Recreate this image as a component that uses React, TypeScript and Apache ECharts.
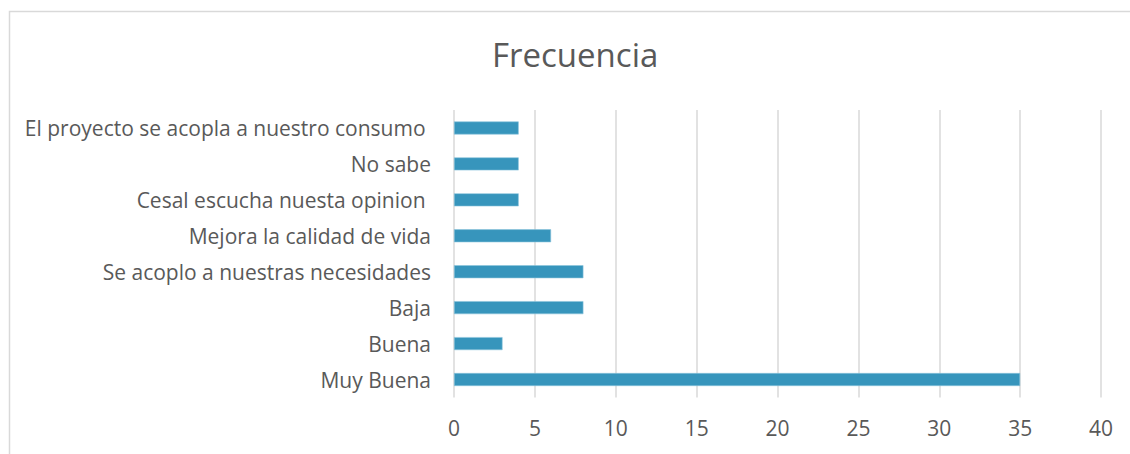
import React, { useEffect, useRef } from "react";
import * as echarts from "echarts";

const categories = [
  "Muy Buena",
  "Buena",
  "Baja",
  "Se acoplo a nuestras necesidades",
  "Mejora la calidad de vida",
  "Cesal escucha nuesta opinion ",
  "No sabe",
  "El proyecto se acopla a nuestro consumo ",
];
const frecuencia = [35, 3, 8, 8, 6, 4, 4, 4];
const titleText = "Frecuencia";

export default function App() {
  const ref = useRef<HTMLDivElement>(null);
  useEffect(() => {
    if (!ref.current) return;
    const chart = echarts.init(ref.current, undefined, { renderer: "svg" });
    chart.setOption({
      animation: false,
      backgroundColor: "#ffffff",
      textStyle: { fontFamily: "Open Sans" },
      title: {
        text: titleText,
        left: 487,
        top: 33,
        textStyle: { fontFamily: "Open Sans", fontSize: 33, fontWeight: "normal", color: "#595959" },
      },
      graphic: [
        {
          type: "rect",
          shape: { x: 9.5, y: 11.5, width: 1140, height: 500 },
          style: { fill: "none", stroke: "#d9d9d9", lineWidth: 1.5 },
          silent: true,
        },
      ],
      grid: { left: 454, right: 29, top: 110, bottom: 56.5, containLabel: false },
      xAxis: {
        type: "value",
        min: 0,
        max: 40,
        interval: 5,
        axisLine: { show: false },
        axisTick: { show: false },
        splitLine: { show: true, lineStyle: { color: "#d9d9d9", width: 1.5 } },
        axisLabel: { color: "#595959", fontSize: 21, fontFamily: "Open Sans", margin: 20 },
      },
      yAxis: {
        type: "category",
        data: categories,
        axisLine: { show: false },
        axisTick: { show: false },
        axisLabel: { color: "#595959", fontSize: 21, fontFamily: "Open Sans", margin: 23 },
      },
      series: [
        {
          type: "bar",
          data: frecuencia,
          barWidth: 13,
          itemStyle: { color: "#3795bc", borderColor: "#8cc4dc", borderWidth: 0.6 },
        },
      ],
    });
    return () => chart.dispose();
  }, []);
  return (
    <div style={{ position: "absolute", left: 0, top: 0, width: 1130, height: 454 }}>
      <div ref={ref} style={{ width: 1130, height: 454 }} />
    </div>
  );
}
